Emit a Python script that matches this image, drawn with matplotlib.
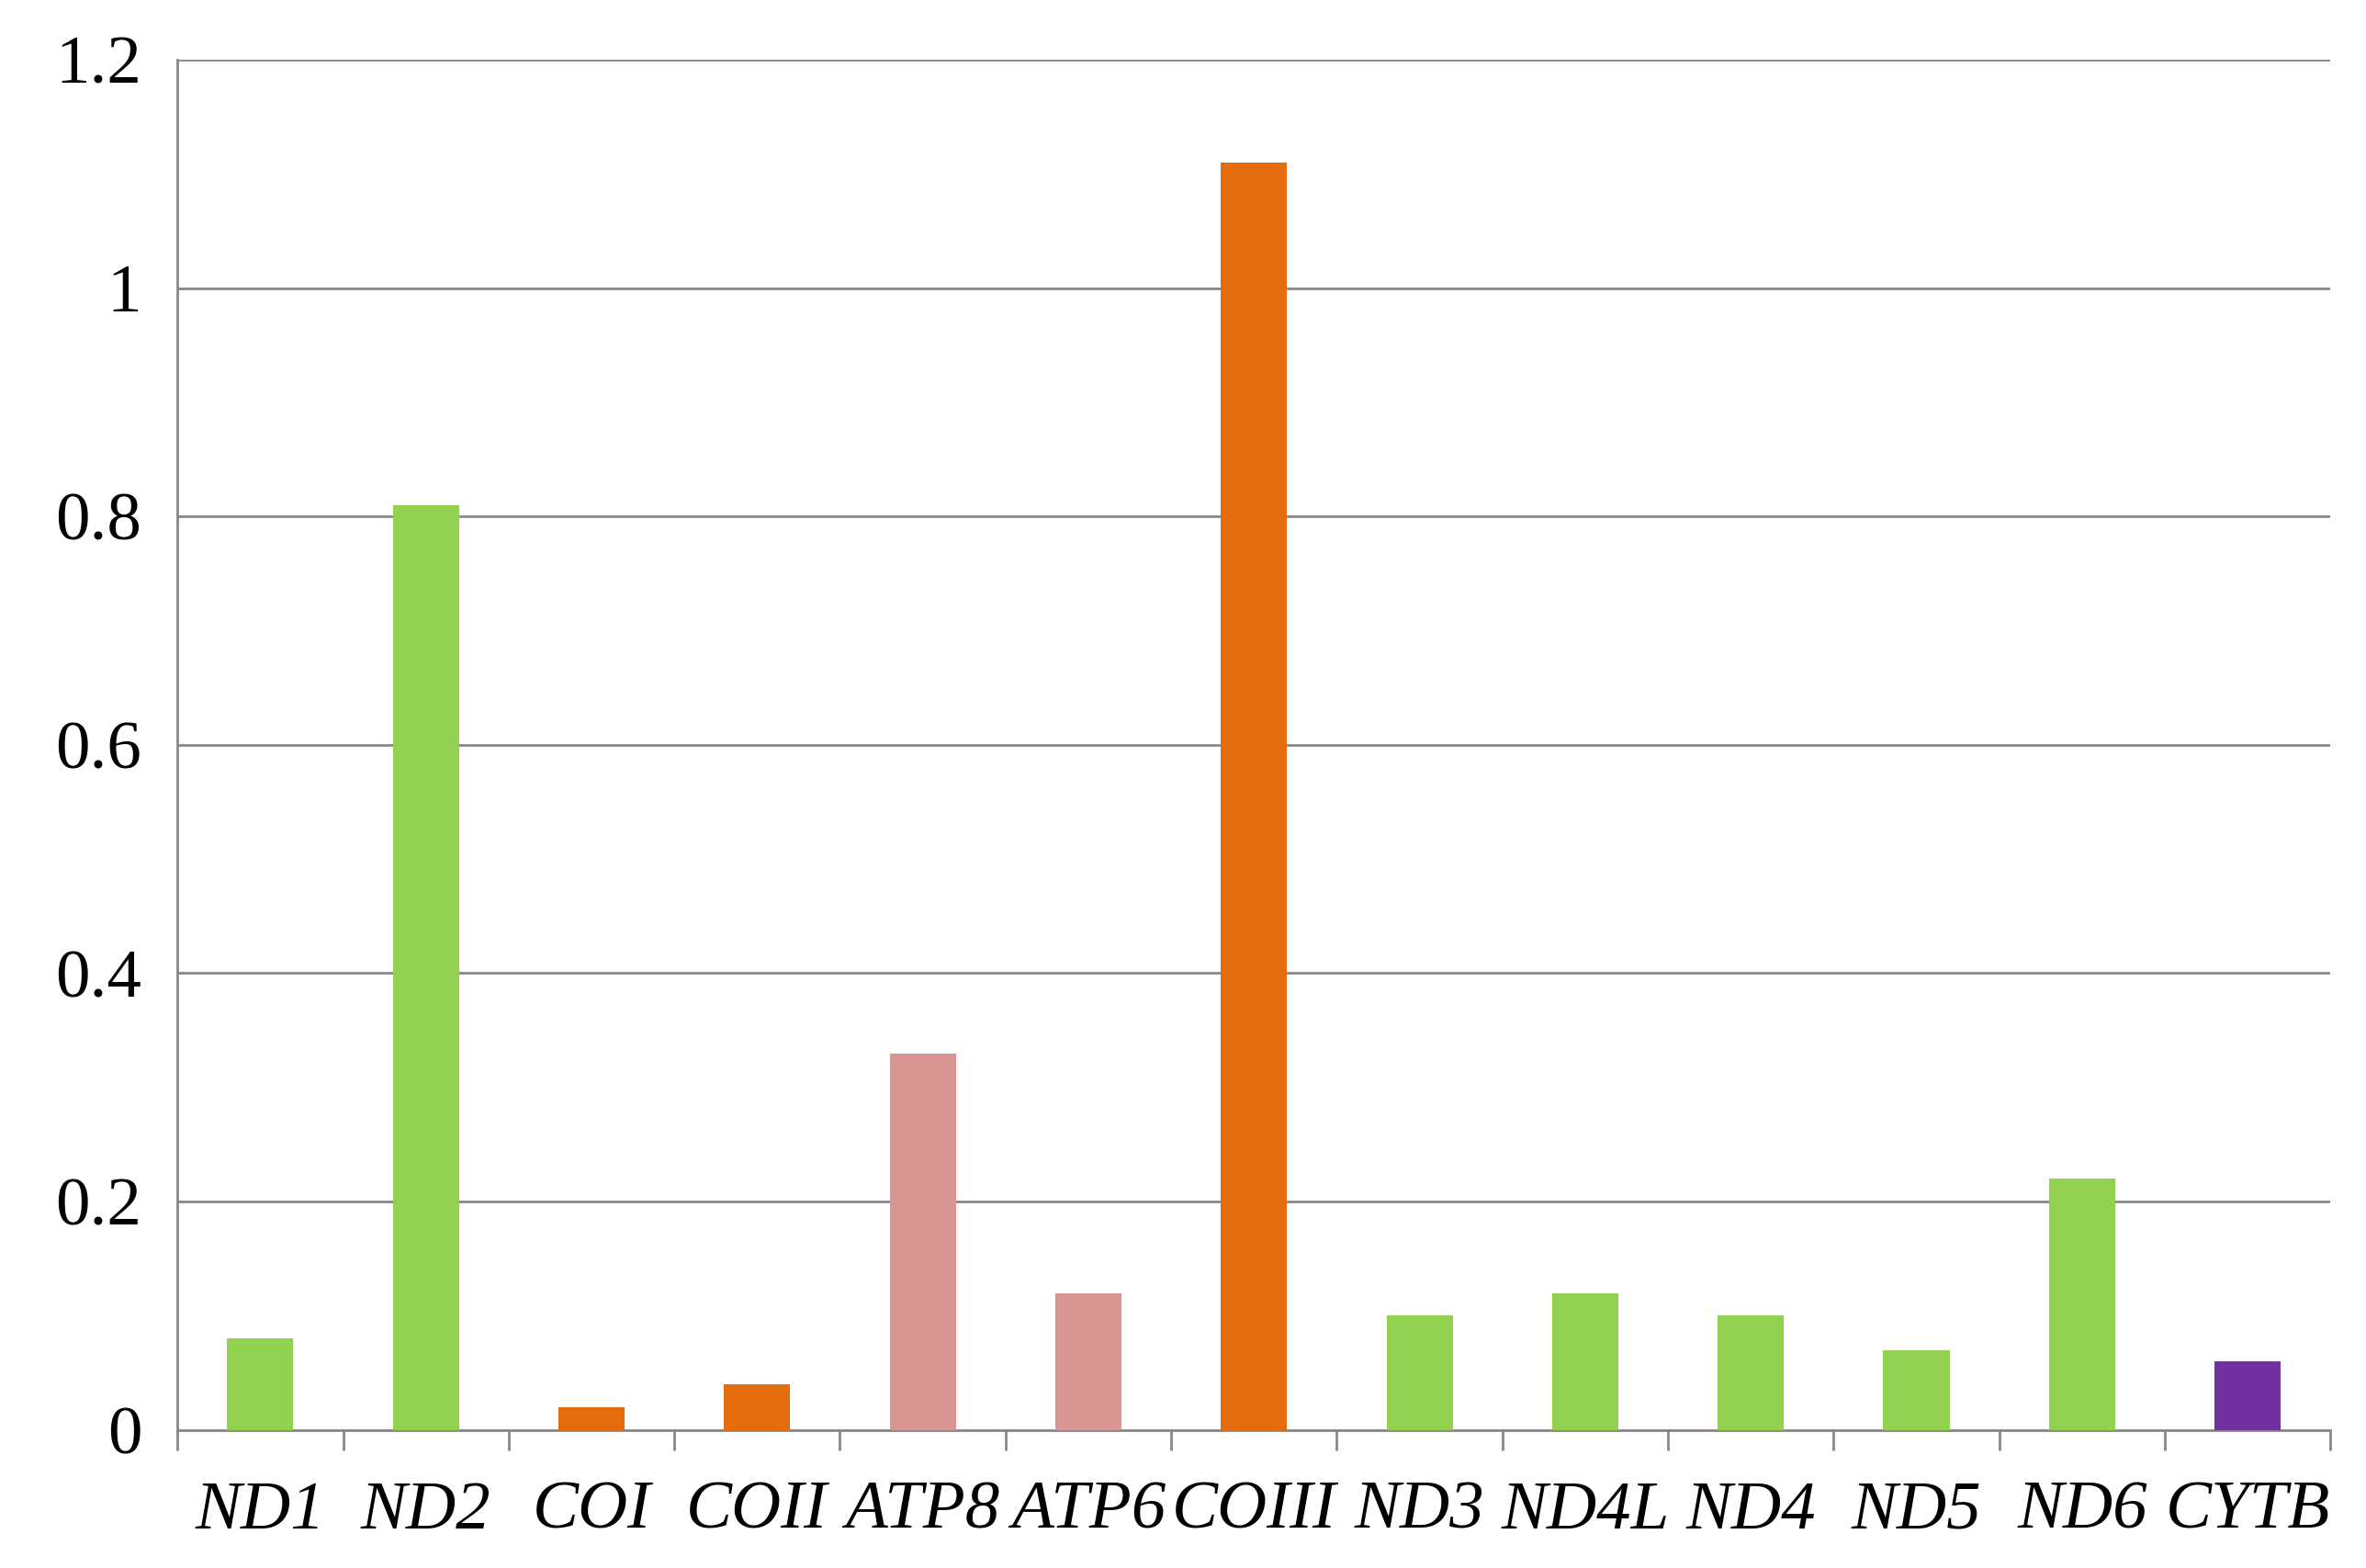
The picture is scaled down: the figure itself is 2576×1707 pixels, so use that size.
import matplotlib
matplotlib.use("Agg")
import matplotlib.pyplot as plt
import numpy as np

genes = ["ND1","ND2","COI","COII","ATP8","ATP6","COIII","ND3","ND4L","ND4","ND5","ND6","CYTB"]
values = [0.08,0.81,0.02,0.04,0.33,0.12,1.11,0.10,0.12,0.10,0.07,0.22,0.06]
groups = ["nd","nd","co","co","atp","atp","co","nd","nd","nd","nd","nd","cyt"]
palette = {"nd":"#92D050","co":"#E46C0A","atp":"#D99594","cyt":"#7030A0"}

plt.rcParams['font.family'] = ['Liberation Serif', 'DejaVu Serif']
fig = plt.figure(figsize=(25.76,17.07), dpi=100)
ax = fig.add_axes([0.075,0.088,0.91,0.874])
x = np.arange(len(genes))
ax.bar(x, values, width=0.4, color=[palette[g] for g in groups], zorder=3)
ax.set_xlim(-0.5, len(genes)-0.5)
ax.set_ylim(0, 1.2)
ax.set_yticks(np.arange(0, 1.21, 0.2))
ax.set_yticklabels(["0","0.2","0.4","0.6","0.8","1","1.2"], fontsize=54)
ax.yaxis.grid(True, color="#888888", linewidth=2, zorder=0)
ax.tick_params(axis='y', length=0, pad=28)
ax.set_xticks(x)
ax.set_xticklabels(genes, fontsize=54, style='italic')
ax.set_xticks(np.arange(-0.5, len(genes)), minor=True)
ax.tick_params(axis='x', which='major', length=0, pad=40)
ax.tick_params(axis='x', which='minor', length=16, width=2, color="#888888", direction='out')
for s in ["top","right"]:
    ax.spines[s].set_visible(False)
for s in ["left","bottom"]:
    ax.spines[s].set_color("#888888")
    ax.spines[s].set_linewidth(2)
fig.savefig("out.png", dpi=100, facecolor="white")
